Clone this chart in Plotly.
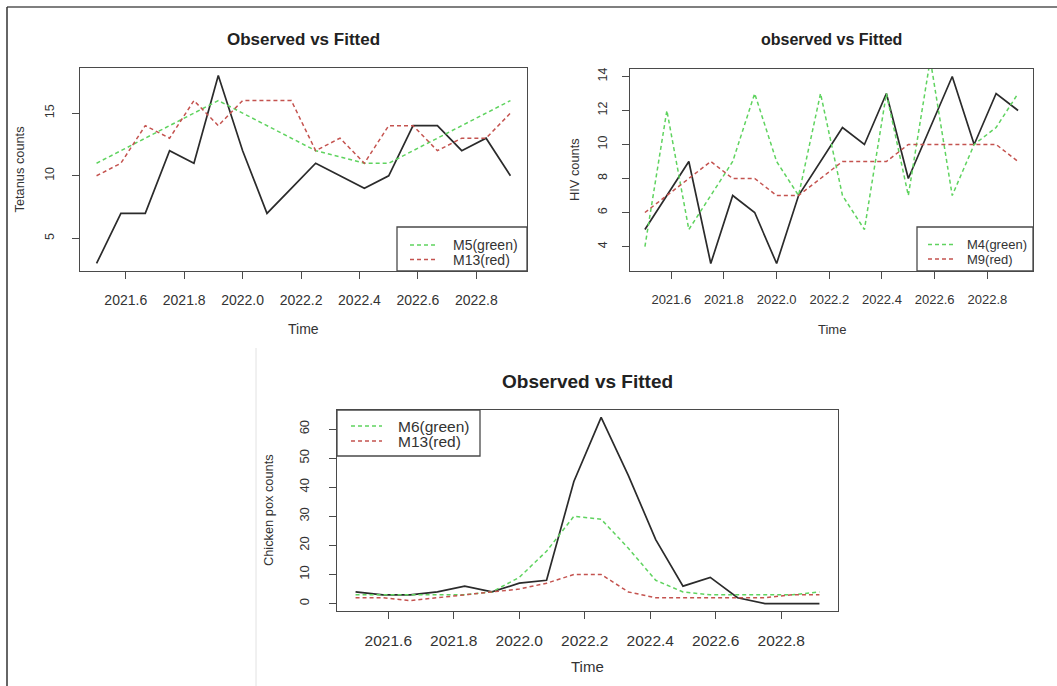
import plotly.graph_objects as go

W, H = 1057, 686
FONT = "Liberation Sans, Arial, Helvetica, sans-serif"

# Monthly time index (decimal years), Jul 2021 .. Dec 2022
time = [2021.5, 2021.5833, 2021.6667, 2021.75, 2021.8333, 2021.9167,
        2022.0, 2022.0833, 2022.1667, 2022.25, 2022.3333, 2022.4167,
        2022.5, 2022.5833, 2022.6667, 2022.75, 2022.8333, 2022.9167]
x_ticks = [2021.6, 2021.8, 2022.0, 2022.2, 2022.4, 2022.6, 2022.8]
x_tick_text = ["2021.6", "2021.8", "2022.0", "2022.2", "2022.4", "2022.6", "2022.8"]

# Tetanus
tetanus_obs = [3, 7, 7, 12, 11, 18, 12, 7, 9, 11, 10, 9, 10, 14, 14, 12, 13, 10]
tetanus_m5 = [11, 12, 13, 14, 15, 16, 15, 14, 13, 12, 11.5, 11, 11, 12, 13, 14, 15, 16]
tetanus_m13 = [10, 11, 14, 13, 16, 14, 16, 16, 16, 12, 13, 11, 14, 14, 12, 13, 13, 15]
tetanus_yticks = [5, 10, 15]

# HIV
hiv_obs = [5, 7, 9, 3, 7, 6, 3, 7, 9, 11, 10, 13, 8, 11, 14, 10, 13, 12]
hiv_m4 = [4, 12, 5, 7, 9, 13, 9, 7, 13, 7, 5, 13, 7, 15, 7, 10, 11, 13]
hiv_m9 = [6, 7, 8, 9, 8, 8, 7, 7, 8, 9, 9, 9, 10, 10, 10, 10, 10, 9]
hiv_yticks = [4, 6, 8, 10, 12, 14]

# Chicken pox
pox_obs = [4, 3, 3, 4, 6, 4, 7, 8, 42, 64, 44, 22, 6, 9, 2, 0, 0, 0]
pox_m6 = [3, 3, 3, 3, 3, 4, 9, 18, 30, 29, 19, 8, 4, 3, 3, 3, 3, 4]
pox_m13 = [2, 2, 1, 2, 3, 4, 5, 7, 10, 10, 4, 2, 2, 2, 2, 2, 3, 3]
pox_yticks = [0, 10, 20, 30, 40, 50, 60]

OBS_COLOR = "#2b2b2b"
GREEN = "#5fd35f"
RED = "#c4534f"
DASH = "4px,3px"
AXIS_COLOR = "#4a4a4a"


def px(x):
    return x / W


def py(y):
    return 1 - y / H


def span(lo, hi, pad=0.04):
    d = (hi - lo) * pad
    return [lo - d, hi + d]


x_range = span(min(time), max(time))

panels = [
    # (suffix, box px [l, t, r, b], obs, green, red, yticks, fonts)
    dict(ax="", box=(80, 68, 527, 271), obs=tetanus_obs, g=tetanus_m5, r=tetanus_m13,
         yt=tetanus_yticks, xfont=14, yfont=12.5, tfont=17, lfont=14, afont=14,
         ystand=13, xstand=9,
         title="Observed vs Fitted", ylab="Tetanus counts", ylab_x=19, time_y=329, title_y=40,
         leg=dict(box=(397, 227, 527, 271), rows=(245, 259.5), sx=(410, 437), tx=451),
         names=("M5(green)", "M13(red)")),
    dict(ax="2", box=(630, 69, 1033, 271), obs=hiv_obs, g=hiv_m4, r=hiv_m9,
         yt=hiv_yticks, xfont=13, yfont=12.5, tfont=16, lfont=13, afont=13,
         ystand=10, xstand=9,
         title="observed vs Fitted", ylab="HIV counts", ylab_x=574, time_y=329, title_y=40,
         leg=dict(box=(917, 227, 1033, 271), rows=(244.5, 259), sx=(928, 953), tx=965),
         names=("M4(green)", "M9(red)")),
    dict(ax="3", box=(337, 410, 838, 611), obs=pox_obs, g=pox_m6, r=pox_m13,
         yt=pox_yticks, xfont=15.5, yfont=13, tfont=19, lfont=15.5, afont=15,
         ystand=15, xstand=8,
         title="Observed vs Fitted", ylab="Chicken pox counts", ylab_x=268.5, time_y=666, title_y=381,
         leg=dict(box=(337, 410, 480, 456), rows=(426, 441), sx=(351, 382), tx=396),
         names=("M6(green)", "M13(red)")),
]

fig = go.Figure()
layout = dict(
    width=W, height=H,
    margin=dict(l=0, r=0, t=0, b=0),
    paper_bgcolor="white", plot_bgcolor="white",
    showlegend=False,
    font=dict(family=FONT, color="#333333"),
)
shapes = []
annotations = []

for p in panels:
    l, t, r, b = p["box"]
    xa = "x" + p["ax"]
    ya = "y" + p["ax"]
    for series, color, width, dash in ((p["obs"], OBS_COLOR, 1.7, "solid"),
                                       (p["g"], GREEN, 1.5, DASH),
                                       (p["r"], RED, 1.5, DASH)):
        fig.add_trace(go.Scatter(x=time, y=series, mode="lines", xaxis=xa, yaxis=ya,
                                 line=dict(color=color, width=width, dash=dash),
                                 hoverinfo="skip"))
    y_range = span(min(p["obs"]), max(p["obs"]))
    common = dict(showgrid=False, zeroline=False, showline=True, mirror=True,
                  linecolor=AXIS_COLOR, linewidth=1.3, ticks="outside",
                  ticklen=7, tickwidth=1.1, tickcolor=AXIS_COLOR)
    layout["xaxis" + p["ax"]] = dict(
        common, domain=[px(l), px(r)], range=x_range, anchor=ya,
        tickvals=x_ticks, ticktext=x_tick_text,
        tickfont=dict(size=p["xfont"], color="#333333"),
        ticklabelstandoff=p["xstand"])
    layout["yaxis" + p["ax"]] = dict(
        common, domain=[py(b), py(t)], range=y_range, anchor=xa,
        tickvals=p["yt"], ticktext=[str(v) for v in p["yt"]], tickangle=-90,
        tickfont=dict(size=p["yfont"], color="#333333"),
        ticklabelstandoff=p["ystand"])

    cx = (l + r) / 2
    annotations.append(dict(text="<b>" + p["title"] + "</b>", x=px(cx), y=py(p["title_y"]),
                            xref="paper", yref="paper", showarrow=False,
                            xanchor="center", yanchor="middle",
                            font=dict(size=p["tfont"], color="#222222")))
    annotations.append(dict(text="Time", x=px(cx), y=py(p["time_y"]),
                            xref="paper", yref="paper", showarrow=False,
                            xanchor="center", yanchor="middle",
                            font=dict(size=p["afont"], color="#333333")))
    annotations.append(dict(text=p["ylab"], x=px(p["ylab_x"]), y=py((t + b) / 2),
                            xref="paper", yref="paper", showarrow=False, textangle=-90,
                            xanchor="center", yanchor="middle",
                            font=dict(size=12.8, color="#333333")))

    # legend box
    lg = p["leg"]
    bl, bt, br, bb = lg["box"]
    shapes.append(dict(type="rect", xref="paper", yref="paper",
                       x0=px(bl), x1=px(br), y0=py(bb), y1=py(bt),
                       line=dict(color=AXIS_COLOR, width=1.3), fillcolor="white", layer="above"))
    for row_y, color, name in zip(lg["rows"], (GREEN, RED), p["names"]):
        shapes.append(dict(type="line", xref="paper", yref="paper",
                           x0=px(lg["sx"][0]), x1=px(lg["sx"][1]), y0=py(row_y), y1=py(row_y),
                           line=dict(color=color, width=1.5, dash=DASH), layer="above"))
        annotations.append(dict(text=name, x=px(lg["tx"]), y=py(row_y),
                                xref="paper", yref="paper", showarrow=False,
                                xanchor="left", yanchor="middle",
                                font=dict(size=p["lfont"], color="#333333")))

# outer frame of the figure
shapes.append(dict(type="line", xref="paper", yref="paper", x0=px(7), x1=1, y0=py(7), y1=py(7),
                   line=dict(color="#555555", width=1.5)))
shapes.append(dict(type="line", xref="paper", yref="paper", x0=px(7), x1=px(7), y0=0, y1=py(7),
                   line=dict(color="#333333", width=1.5)))
shapes.append(dict(type="line", xref="paper", yref="paper", x0=px(256), x1=px(256), y0=0, y1=py(348),
                   line=dict(color="#e2e2e2", width=1)))

layout["shapes"] = shapes
layout["annotations"] = annotations
fig.update_layout(**layout)
fig.write_html("out.html")
